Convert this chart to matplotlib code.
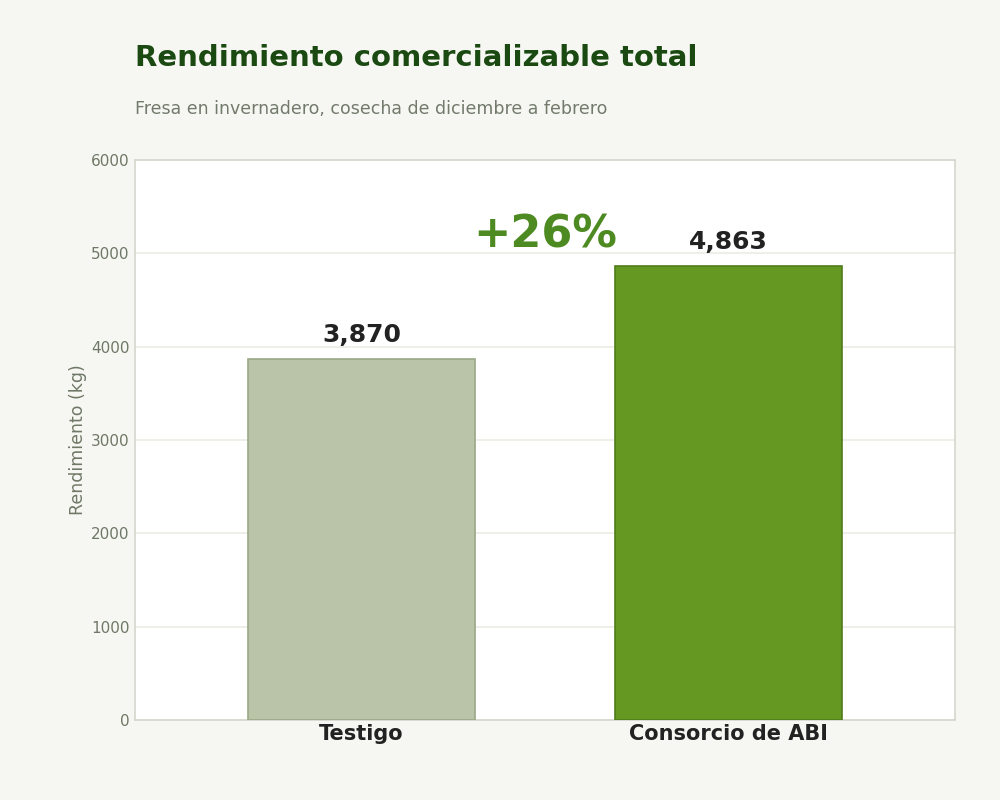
import matplotlib.pyplot as plt

categories = ["Testigo", "Consorcio de ABI"]
values = [3870, 4863]
bar_colors = ["#b9c4a8", "#649823"]
edge_colors = ["#99a886", "#4f7d1b"]
gain_label = "+26%"

fig = plt.figure(figsize=(10, 8), dpi=100, facecolor="#f6f7f2")
ax = fig.add_axes([0.135, 0.1, 0.82, 0.7])
ax.set_facecolor("white")

x = range(len(categories))
ax.bar(x, values, width=0.62, color=bar_colors, edgecolor=edge_colors, linewidth=1.2, zorder=3)

for i, v in enumerate(values):
    ax.text(i, v + 125, f"{v:,}", ha="center", va="bottom", fontsize=18,
            fontweight="bold", color="#222222", zorder=4)

ax.text(0.5, 5200, gain_label, ha="center", va="center", fontsize=32,
        fontweight="bold", color="#4e8a22", zorder=4)

ax.set_xlim(-0.617, 1.617)
ax.set_ylim(0, 6000)
ax.set_yticks(range(0, 6001, 1000))
ax.set_xticks(list(x))
ax.set_xticklabels(categories, fontsize=15, fontweight="bold", color="#222222")
ax.tick_params(axis="x", length=0, pad=3)
ax.tick_params(axis="y", length=0, labelsize=11, labelcolor="#6f7866", pad=4)
ax.set_ylabel("Rendimiento (kg)", fontsize=12.5, color="#6f7866", labelpad=3)

ax.grid(axis="y", color="#ecece6", linewidth=1.2, zorder=0)
for s in ax.spines.values():
    s.set_color("#d5d7cd")
    s.set_linewidth(1.2)

fig.text(0.135, 0.928, "Rendimiento comercializable total", fontsize=21,
         fontweight="bold", color="#1a4a12", ha="left", va="center")
fig.text(0.135, 0.864, "Fresa en invernadero, cosecha de diciembre a febrero",
         fontsize=12.5, color="#727a6c", ha="left", va="center")

fig.savefig("out.png", dpi=100, facecolor=fig.get_facecolor())
